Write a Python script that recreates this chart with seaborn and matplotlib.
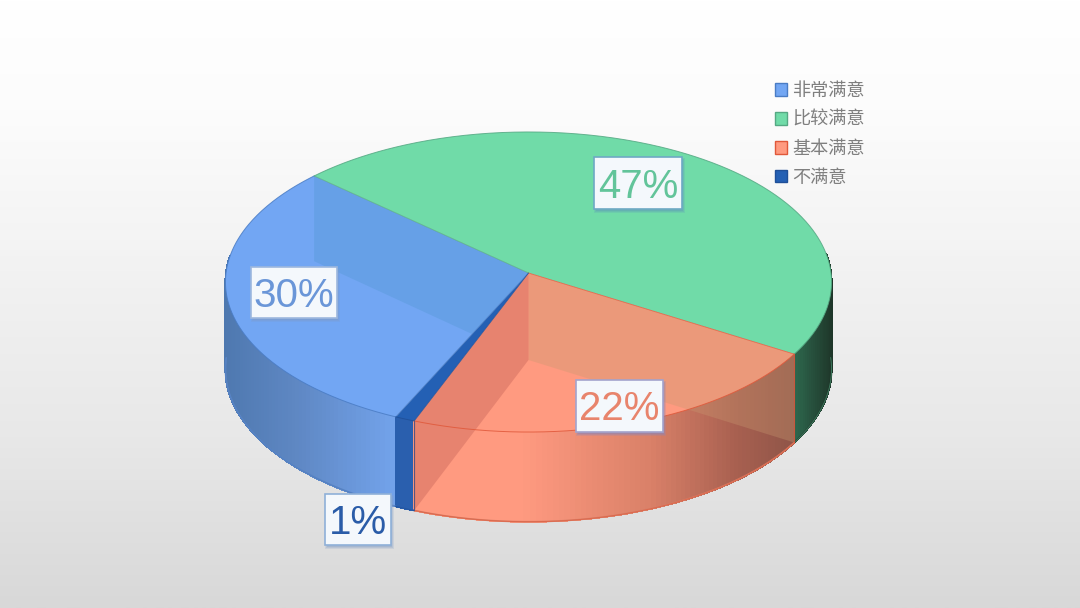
import numpy as np
import matplotlib
matplotlib.use("Agg")
import matplotlib.pyplot as plt
import seaborn as sns
from matplotlib.colors import LinearSegmentedColormap, to_rgb
from matplotlib.collections import PolyCollection
from matplotlib.patches import Polygon, Rectangle, Patch

# ---- data ----
categories = ["非常满意", "比较满意", "基本满意", "不满意"]
values = [30, 47, 22, 1]

# ---- style ----
top_colors = ["#72a6f3", "#70dba8", "#ff9a80", "#2460b4"]
edge_colors = ["#4a7cc4", "#55a883", "#e0583a", "#1f4f98"]
text_colors = ["#6a96d8", "#62c49a", "#e8846c", "#2a5ca8"]
box_edges = ["#9db8de", "#6ea9c4", "#a3a3cc", "#8fb0d8"]
shadow_colors = ["#7f9cc8", "#5f9fb8", "#8a86b8", "#8fa5c8"]
side_x = [[225, 300, 393], [792, 832], [412, 520, 650, 735, 792], [393, 412]]
side_c = [["#4e78af", "#5f88c4", "#72a2ea"], ["#2f6a50", "#1e3528"],
          ["#ff9a80", "#ff9a80", "#d98068", "#a86050", "#8f5548"], ["#2a5fae", "#2a5fae"]]
label_xy = [(294, 292.5), (638, 183), (619.5, 406), (358, 519.5)]
label_wh = [(86, 51), (88, 52), (87, 52), (66, 51)]
bg_stops = [(0.0, "#ffffff"), (0.18, "#fcfcfc"), (0.5, "#f0f0f0"), (0.72, "#e8e8e8"), (1.0, "#d8d8d8")]

sns.set_theme(style="white")
plt.rcParams["font.family"] = ["Noto Sans CJK SC", "DejaVu Sans"]
palette = sns.color_palette(top_colors)

# ---- projection of the unit disc onto the picture ----
CX, CY, BX, BY, K, DEPTH, START = 528.5, 273, 302.5, 149.5, 0.06, 87, 245.5


def proj(theta, r=1.0, z=0.0):
    t = np.radians(theta)
    u, v = r * np.cos(t), r * np.sin(t)
    w = 1 + K * v
    return CX + BX * u / w, CY - BY * v / w + z * DEPTH / (1 + 0.03 * v)


def rim(a0, a1, z=0.0):
    n = max(int(abs(a1 - a0) * 2), 2)
    x, y = proj(np.linspace(a0, a1, n), z=z)
    return np.column_stack([x, y])


spans = np.array(values) / sum(values) * 360
starts = START - np.concatenate([[0], np.cumsum(spans)[:-1]])
ends = starts - spans

fig = plt.figure(figsize=(10.8, 6.08), dpi=100)
ax = fig.add_axes([0, 0, 1, 1])
ax.set_xlim(0, 1080)
ax.set_ylim(608, 0)
ax.axis("off")

cmap = LinearSegmentedColormap.from_list("bg", bg_stops)
ax.imshow(np.linspace(0, 1, 256)[:, None], cmap=cmap, extent=(0, 1080, 608, 0), aspect="auto", zorder=0)

# ---- outer side (only the part that faces the viewer) ----
quads, cols, keys = [], [], []
for i in range(len(values)):
    ang = np.linspace(starts[i], ends[i], max(int(spans[i]), 2) + 1)
    stops = np.array([to_rgb(c) for c in side_c[i]])
    for a0, a1 in zip(ang[:-1], ang[1:]):
        if np.sin(np.radians((a0 + a1) / 2)) > 0.12:
            continue
        x0, y0 = proj(a0)
        x1, y1 = proj(a1)
        x2, y2 = proj(a1, z=1)
        x3, y3 = proj(a0, z=1)
        quads.append([(x0, y0), (x1, y1), (x2, y2), (x3, y3)])
        mx = (x0 + x1) / 2
        cols.append([np.interp(mx, side_x[i], stops[:, k]) for k in range(3)])
        keys.append(np.sin(np.radians((a0 + a1) / 2)))
order = np.argsort(keys)[::-1]
ax.add_collection(PolyCollection([quads[j] for j in order], facecolors=[cols[j] for j in order],
                                 edgecolors=[cols[j] for j in order], linewidths=0.8,
                                 antialiased=False, zorder=1))

# ---- outer bottom outline (front half only) ----
for i in range(len(values)):
    arc = rim(starts[i], ends[i], z=1)
    front = np.sin(np.radians(np.linspace(starts[i], ends[i], len(arc)))) < 0.02
    ax.plot(arc[front, 0], arc[front, 1], color=side_c[i][len(side_c[i]) // 2], lw=1.2, zorder=2)
    ax.plot(arc[front, 0], arc[front, 1], color=edge_colors[i], lw=0.7, alpha=0.6, zorder=2)

# ---- top faces ----
tops = []
for i in range(len(values)):
    pts = np.vstack([[proj(starts[i], r=0)], rim(starts[i], ends[i])])
    tops.append(pts)
draw_order = [0, 1, 2, 3]
patches = {}
for i in draw_order:
    patches[i] = Polygon(tops[i], closed=True, facecolor=palette[i], edgecolor="none", zorder=3)
    ax.add_patch(patches[i])


# ---- inner walls seen through the translucent top ----
def wall(theta):
    return [proj(theta, r=0), proj(theta, r=0, z=1), proj(theta, z=1), proj(theta)]


w = Polygon(wall(starts[1]), closed=True, facecolor="#4f96d0", edgecolor="none", alpha=0.34, zorder=4)
ax.add_patch(w)
w.set_clip_path(patches[0])
ax.add_patch(Polygon(wall(starts[2]), closed=True, facecolor="#c89870", edgecolor="none", alpha=0.35, zorder=4))
ax.add_patch(Polygon(wall(ends[2]), closed=True, facecolor="#bd5950", edgecolor="none", alpha=0.35, zorder=4))

# ---- edges ----
for i in draw_order:
    ax.plot(tops[i][1:, 0], tops[i][1:, 1], color=edge_colors[i], lw=0.7, alpha=0.85, zorder=5)
    ax.plot(*zip(proj(starts[i], r=0), proj(starts[i])), color=edge_colors[i], lw=0.6, alpha=0.8, zorder=5)
for theta, c in [(starts[2], edge_colors[2]), (ends[2], edge_colors[2]), (starts[3], edge_colors[3])]:
    ax.plot(*zip(proj(theta), proj(theta, z=1)), color=c, lw=0.8, alpha=0.7, zorder=5)

# ---- value labels ----
for i, (v, (lx, ly), (bw, bh)) in enumerate(zip(values, label_xy, label_wh)):
    for grow, alpha in [(1.5, 0.22), (0.5, 0.3), (-0.5, 0.4)]:
        ax.add_patch(Rectangle((lx - bw / 2 + 1.5 - grow, ly - bh / 2 + 2.5 - grow), bw + 2 * grow, bh + 2 * grow,
                               facecolor=shadow_colors[i], edgecolor="none", alpha=alpha, zorder=6))
    ax.add_patch(Rectangle((lx - bw / 2, ly - bh / 2), bw, bh, facecolor="#f4f8fc", edgecolor=box_edges[i],
                           lw=1.2, zorder=7))
    ax.text(lx, ly - 0.5, f"{v}%", color=text_colors[i], fontsize=29, ha="center", va="center_baseline",
            family=["Liberation Sans", "DejaVu Sans"], zorder=8)

# ---- legend ----
handles = [Patch(facecolor=palette[i], edgecolor=edge_colors[i], lw=1.0) for i in range(len(categories))]
leg = ax.legend(handles, categories, loc="upper left", bbox_to_anchor=(775 / 1080, 1 - 82 / 608), frameon=False,
                fontsize=13.1, labelcolor="#7f7f7f", handlelength=0.66, handleheight=0.66,
                handletextpad=0.28, labelspacing=0.6, borderpad=0, borderaxespad=0)
leg.set_zorder(9)

fig.savefig("out.png", dpi=100)
